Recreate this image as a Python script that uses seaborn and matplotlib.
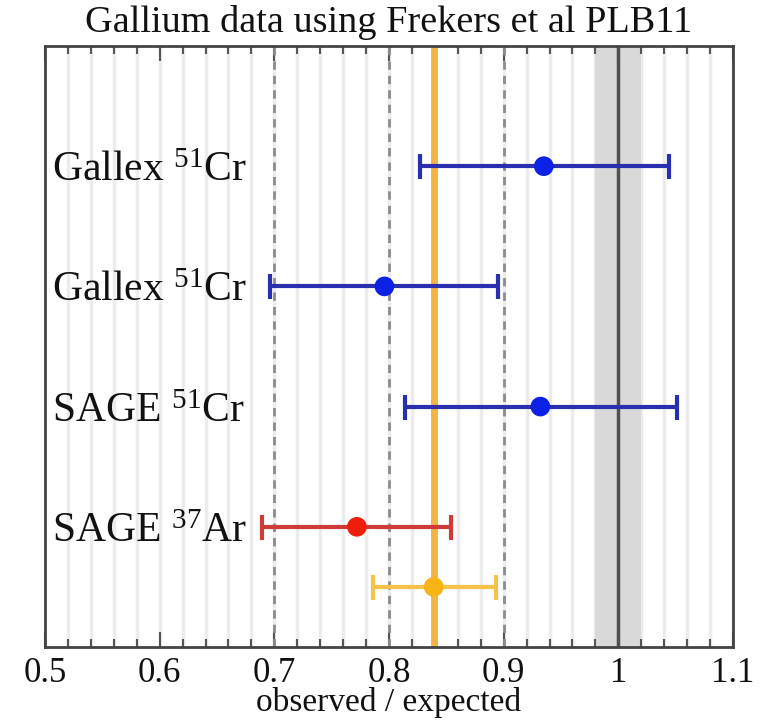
import numpy as np
import pandas as pd
import matplotlib
matplotlib.use("Agg")
import matplotlib.pyplot as plt
from matplotlib.ticker import MultipleLocator, FixedFormatter, FixedLocator
import seaborn as sns

# ---- data ----
labels = ["Gallex $^{51}$Cr", "Gallex $^{51}$Cr", "SAGE $^{51}$Cr", "SAGE $^{37}$Ar", ""]
values = [0.935, 0.796, 0.932, 0.772, 0.839]
lower = [0.827, 0.696, 0.814, 0.689, 0.786]
upper = [1.044, 0.895, 1.051, 0.854, 0.893]
rows = [4, 3, 2, 1, 0.5]
groups = ["cr", "cr", "cr", "ar", "comb"]
combined_mean = 0.839
band_lo, band_hi = 0.98, 1.02
dashed_refs = [0.7, 0.8, 0.9]
xticks = [0.5, 0.6, 0.7, 0.8, 0.9, 1.0, 1.1]
xticklabels = ["0.5", "0.6", "0.7", "0.8", "0.9", "1", "1.1"]

sns.set_theme(style="white")
plt.rcParams["font.family"] = ["Liberation Serif", "DejaVu Serif"]
plt.rcParams["mathtext.fontset"] = "custom"
plt.rcParams["mathtext.rm"] = "Liberation Serif"
plt.rcParams["mathtext.it"] = "Liberation Serif:italic"

df = pd.DataFrame({"label": labels, "value": values, "lo": lower, "hi": upper,
                   "row": rows, "group": groups})

fig = plt.figure(figsize=(7.68, 7.22), dpi=100)
ax = fig.add_axes([45/768, 1-647/722, 688/768, 601/722])

# faint vertical grid
for xv in np.arange(0.52, 1.1, 0.02):
    ax.axvline(xv, color="#ececec", lw=2.5, zorder=0)
ax.axvspan(band_lo, band_hi, color="#d9d9d9", zorder=0.5, lw=0)
for xv in dashed_refs:
    ax.axvline(xv, color="#8c8c8c", lw=2, ls=(0, (3, 2.2)), zorder=1)
ax.axvline(1.0, color="#505050", lw=2.5, zorder=1)
ax.axvline(combined_mean, color="#f6b444", lw=5, zorder=1.5)

colors = {"cr": ("#2a2fb0", "#0b22e6"), "ar": ("#d03a38", "#ee1e0a"), "comb": ("#f5c24a", "#f8b414")}
for _, r in df.iterrows():
    lc, mc = colors[r["group"]]
    ax.errorbar(r["value"], r["row"], xerr=[[r["value"] - r["lo"]], [r["hi"] - r["value"]]],
                fmt="none", ecolor=lc, elinewidth=3, capsize=9, capthick=3, zorder=3)

sns.scatterplot(data=df, x="value", y="row", hue="group",
                palette={k: v[1] for k, v in colors.items()},
                s=200, edgecolor="none", legend=False, ax=ax, zorder=4)

for _, r in df.iterrows():
    if r["label"]:
        ax.text(0.010, r["row"] - 0.04, r["label"], transform=ax.get_yaxis_transform(),
                ha="left", va="center", fontsize=30, color="#111111", zorder=5)

ax.set_xlim(0.5, 1.1)
ax.set_ylim(0, 5)
ax.xaxis.set_major_locator(FixedLocator(xticks))
ax.xaxis.set_major_formatter(FixedFormatter(xticklabels))
ax.xaxis.set_minor_locator(MultipleLocator(0.02))
ax.set_yticks([])
ax.tick_params(axis="x", which="major", direction="in", length=11, width=1.5,
               top=True, bottom=True, color="#555555", labelsize=25, pad=7, labelcolor="#111111")
ax.tick_params(axis="x", which="minor", direction="in", length=6, width=1.5,
               top=True, bottom=True, color="#555555")
for sp in ax.spines.values():
    sp.set_visible(True)
    sp.set_color("#444444")
    sp.set_linewidth(2)
ax.set_xlabel("observed / expected", fontsize=24, labelpad=-2, color="#111111")
ax.set_ylabel("")
ax.set_title("Gallium data using Frekers et al PLB11", fontsize=27.5, pad=10, color="#111111")

fig.savefig("out.png", dpi=100)
